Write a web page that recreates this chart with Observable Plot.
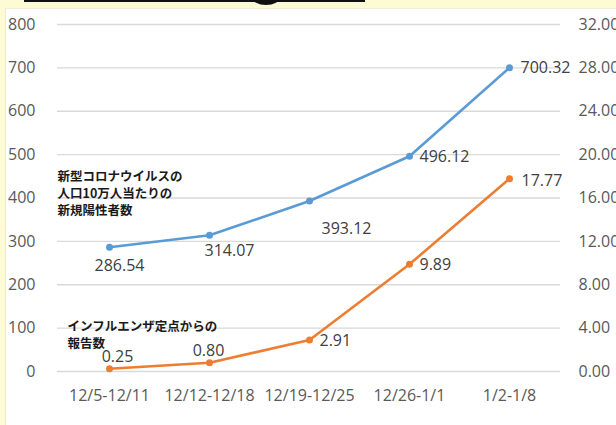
<!DOCTYPE html>
<html>
<head>
<meta charset="utf-8">
<script src="https://cdn.jsdelivr.net/npm/d3@7"></script>
<script src="https://cdn.jsdelivr.net/npm/@observablehq/plot@0.6"></script>
<style>
  html, body { margin: 0; padding: 0; }
  body { width: 616px; height: 425px; position: relative; overflow: hidden; background: #fdfbd4; }
  #panel { position: absolute; left: 5px; top: 8px; right: 0; bottom: 0; background: #ffffff; border-left: 1px solid #ecead0; border-top: 1px solid #f1efd8; }
  #bar { position: absolute; left: 24px; top: 0; width: 341px; height: 2px; background: #111; }
  #blob { position: absolute; left: 252px; top: -10px; width: 28px; height: 15px; border-radius: 50%; background: #111; }
  #chart { position: absolute; left: 0; top: 0; }
</style>
</head>
<body>
<div id="panel"></div>
<div id="bar"></div>
<div id="blob"></div>
<div id="chart"></div>
<script>
// ---- data ----
const weeks = ["12/5-12/11", "12/12-12/18", "12/19-12/25", "12/26-1/1", "1/2-1/8"];
const covidPer100k = [286.54, 314.07, 393.12, 496.12, 700.32];
const fluPerSentinel = [0.25, 0.80, 2.91, 9.89, 17.77];
const leftTicks = [0, 100, 200, 300, 400, 500, 600, 700, 800];
const rightMax = 32;
const leftMax = 800;
const covidNote = "新型コロナウイルスの\n人口10万人当たりの\n新規陽性者数";
const fluNote = "インフルエンザ定点からの\n報告数";

// ---- label placement (style only) ----
const covidLabelPlace = [
  {dx: 10, dy: 19, anchor: "middle"},
  {dx: 20, dy: 16, anchor: "middle"},
  {dx: 12, dy: 28, anchor: "start"},
  {dx: 10, dy: 1, anchor: "start"},
  {dx: 11, dy: 0, anchor: "start"}
];
const fluLabelPlace = [
  {dx: 8, dy: -12, anchor: "middle"},
  {dx: -1, dy: -12, anchor: "middle"},
  {dx: 10, dy: 1, anchor: "start"},
  {dx: 10, dy: 1, anchor: "start"},
  {dx: 12, dy: 2, anchor: "start"}
];

const ratio = leftMax / rightMax;
const covid = weeks.map((w, i) => ({week: w, y: covidPer100k[i], label: covidPer100k[i].toFixed(2)}));
const flu = weeks.map((w, i) => ({week: w, y: fluPerSentinel[i] * ratio, label: fluPerSentinel[i].toFixed(2)}));

const BLUE = "#5b9bd5";
const ORANGE = "#ed7d31";
const LABEL = "#404040";

const labelMarks = (rows, places) => rows.map((d, i) => Plot.text([d], {
  x: "week", y: "y", text: "label",
  dx: places[i].dx, dy: places[i].dy, textAnchor: places[i].anchor,
  fill: LABEL, fontSize: 16
}));

const chart = Plot.plot({
  width: 616,
  height: 425,
  marginLeft: 57,
  marginRight: 56,
  marginTop: 24,
  marginBottom: 54,
  style: {background: "none", fontFamily: "'Open Sans', sans-serif", fontSize: "16px", color: "#595959", overflow: "visible"},
  x: {type: "point", domain: weeks, padding: 0.5},
  y: {domain: [0, leftMax]},
  marks: [
    Plot.ruleY(leftTicks, {stroke: "#d9d9d9", strokeWidth: 1.3}),
    Plot.axisY(leftTicks, {anchor: "left", tickSize: 0, tickPadding: 22, fill: "#595959", fontSize: 16, label: null}),
    Plot.axisY(leftTicks, {anchor: "right", tickSize: 0, tickPadding: 18, fill: "#595959", fontSize: 16, label: null,
      tickFormat: d => (d / ratio).toFixed(2)}),
    Plot.axisX({anchor: "bottom", tickSize: 0, tickPadding: 18, fill: "#595959", fontSize: 16, label: null}),
    Plot.line(covid, {x: "week", y: "y", stroke: BLUE, strokeWidth: 2.6}),
    Plot.dot(covid, {x: "week", y: "y", r: 3.5, fill: BLUE}),
    Plot.line(flu, {x: "week", y: "y", stroke: ORANGE, strokeWidth: 2.6}),
    Plot.dot(flu, {x: "week", y: "y", r: 3.5, fill: ORANGE}),
    ...labelMarks(covid, covidLabelPlace),
    ...labelMarks(flu, fluLabelPlace),
    Plot.text([covidNote], {frameAnchor: "left", text: d => d, textAnchor: "start", lineAnchor: "middle",
      dx: 0, dy: -5, fontSize: 12.5, fontWeight: "bold", fill: "#1a1a1a", lineHeight: 1.36,
      fontFamily: "'Noto Sans CJK JP', sans-serif"}),
    Plot.text([fluNote], {frameAnchor: "left", text: d => d, textAnchor: "start", lineAnchor: "middle",
      dx: 10, dy: 136, fontSize: 12.5, fontWeight: "bold", fill: "#1a1a1a", lineHeight: 1.34,
      fontFamily: "'Noto Sans CJK JP', sans-serif"})
  ]
});
document.getElementById("chart").appendChild(chart);
</script>
</body>
</html>
